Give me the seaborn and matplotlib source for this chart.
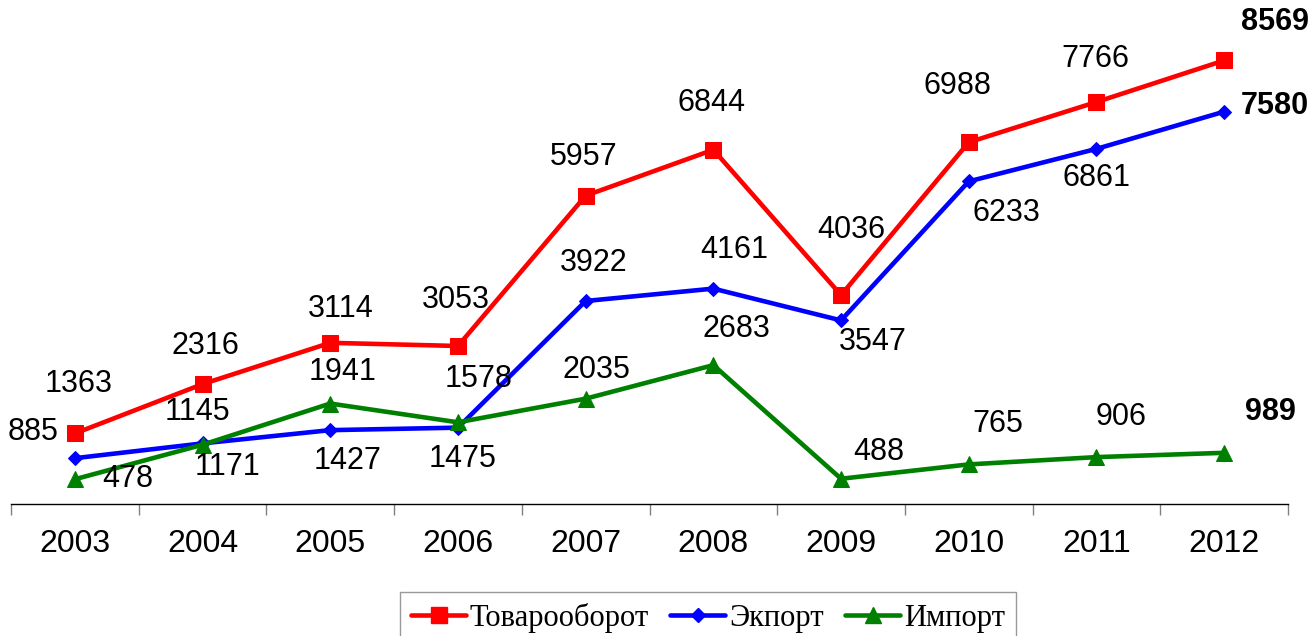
import matplotlib
matplotlib.use("Agg")
import matplotlib.pyplot as plt
import seaborn as sns
from matplotlib.lines import Line2D
from matplotlib.ticker import FixedLocator

years = ["2003", "2004", "2005", "2006", "2007", "2008", "2009", "2010", "2011", "2012"]
trade = [1363, 2316, 3114, 3053, 5957, 6844, 4036, 6988, 7766, 8569]
export = [885, 1171, 1427, 1475, 3922, 4161, 3547, 6233, 6861, 7580]
imports = [478, 1145, 1941, 1578, 2035, 2683, 488, 765, 906, 989]
names = ["Товарооборот", "Экпорт", "Импорт"]

# label offsets in pixels (dx, dy) relative to each marker
off_trade = [(4, 49), (3, 38), (10, 34), (-2, 46), (-2, 39), (-2, 47), (10, 65), (-11, 56), (-1, 43), (51, 38)]
off_export = [(-42, 26), (25, -24), (17, -31), (5, -31), (8, 38), (21, 39), (32, -22), (38, -32), (0, -29), (51, 6)]
off_import = [(53, 0), (-5, 33), (12, 32), (21, 43), (11, 29), (23, 36), (38, 27), (29, 40), (25, 40), (46, 41)]

sns.set_style("white")
plt.rcParams['font.family'] = ['Liberation Sans', 'DejaVu Sans']

W, H = 1314, 636
fig = plt.figure(figsize=(W / 100, H / 100), dpi=100)
ymax = 9000
px_per_unit = 0.05176
ax_h = ymax * px_per_unit
ax = fig.add_axes([11 / W, (H - 504) / H, (1288 - 11) / W, ax_h / H])

x = list(range(len(years)))
series = [
    (trade, "#ff0000", "s", 11.5, off_trade),
    (export, "#0000ff", "D", 7.5, off_export),
    (imports, "#008000", "^", 11, off_import),
]
for (vals, col, mk, ms, offs), name in zip(series, names):
    sns.lineplot(x=x, y=vals, ax=ax, color=col, marker=mk, markersize=ms,
                 markeredgecolor=col, linewidth=3.3, label=name, legend=False)
    for i, v in enumerate(vals):
        dx, dy = offs[i]
        ax.annotate(str(v), (i, v), xytext=(dx, dy), textcoords="offset pixels",
                    ha="center", va="center", fontsize=22,
                    fontweight="bold" if i == len(vals) - 1 else "normal",
                    color="black", annotation_clip=False)

ax.set_xlim(-0.5, len(years) - 0.5)
ax.set_ylim(0, ymax)
ax.set_xticks(x)
ax.set_xticklabels(years, fontsize=23, color="black")
ax.xaxis.set_minor_locator(FixedLocator([i - 0.5 for i in range(len(years) + 1)]))
ax.tick_params(axis="x", which="major", length=0, pad=18, labelcolor="black")
ax.tick_params(axis="x", which="minor", length=8, width=1, color="#808080", direction="out", bottom=True)
ax.set_yticks([])
for s in ["top", "left", "right"]:
    ax.spines[s].set_visible(False)
ax.spines["bottom"].set_color("black")
ax.spines["bottom"].set_linewidth(1)
ax.set_xlabel("")
ax.set_ylabel("")

handles = [Line2D([0], [0], color=c, marker=m, markersize=ms, linewidth=3.3, markeredgecolor=c,
                  solid_capstyle="round")
           for (_, c, m, ms, _) in series]
leg = fig.legend(handles, names, loc="upper center", bbox_to_anchor=(708 / W, 1 - 592 / H),
                 ncol=3, frameon=True, fancybox=False, edgecolor="#808080", borderaxespad=0,
                 prop={"family": "Liberation Serif", "size": 22}, handlelength=1.8,
                 handletextpad=0.12, columnspacing=0.7, borderpad=0.35)
leg.get_frame().set_linewidth(1)
for t in leg.get_texts():
    t.set_color("black")

fig.savefig("out.png", dpi=100)
